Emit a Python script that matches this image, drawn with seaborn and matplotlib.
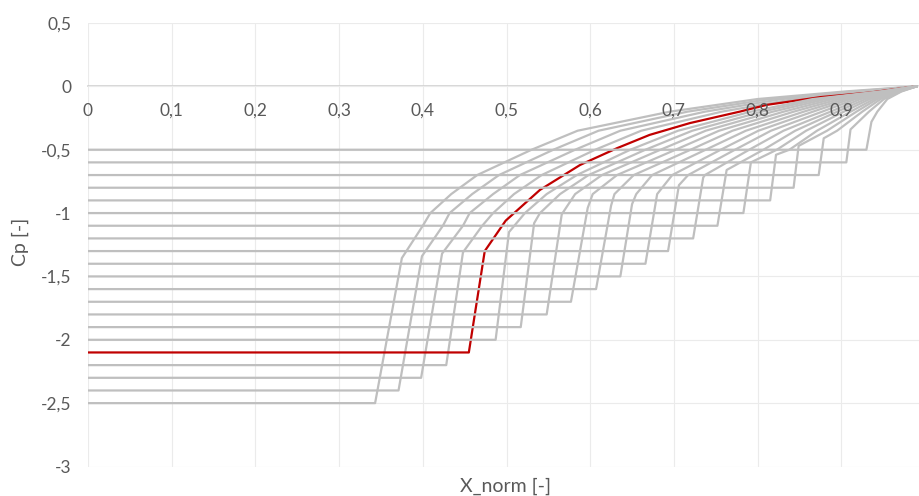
"""
Distribuciones de Cp normalizadas: familia de curvas (gris) y caso de
referencia (rojo).
"""

import matplotlib.pyplot as plt
import seaborn as sns

# Meseta de cada serie, de abajo arriba (mismo orden que en la hoja)
cp_plateau = [-2.5, -2.4, -2.3, -2.2, -2.1, -2.0, -1.9, -1.8, -1.7, -1.6, -1.5,
              -1.4, -1.3, -1.2, -1.1, -1.0, -0.9, -0.8, -0.7, -0.6, -0.5]
# Fin de la meseta (X_norm)
x_break = [0.343, 0.371, 0.398, 0.428, 0.455, 0.487, 0.517, 0.548, 0.577,
           0.607, 0.636, 0.666, 0.693, 0.723, 0.752, 0.783, 0.815, 0.843,
           0.873, 0.906, 0.930]

# Recuperacion de presion: desde la rodilla hasta el borde de salida
curve_x = [
    [0.375, 0.400, 0.409, 0.434, 0.465, 0.530, 0.585, 0.695, 0.800, 0.905, 0.99],
    [0.399, 0.424, 0.432, 0.459, 0.491, 0.556, 0.610, 0.716, 0.815, 0.915, 0.99],
    [0.423, 0.448, 0.456, 0.484, 0.516, 0.582, 0.636, 0.737, 0.829, 0.925, 0.99],
    [0.448, 0.471, 0.484, 0.509, 0.542, 0.606, 0.661, 0.757, 0.844, 0.935, 0.99],
    [0.474, 0.499, 0.540, 0.588, 0.632, 0.671, 0.719, 0.779, 0.811, 0.875,
     0.934, 0.99],
    [0.503, 0.522, 0.548, 0.584, 0.648, 0.705, 0.792, 0.866, 0.947, 0.99],
    [0.533, 0.540, 0.564, 0.598, 0.666, 0.722, 0.805, 0.874, 0.949, 0.99],
    [0.566, 0.582, 0.614, 0.684, 0.738, 0.818, 0.882, 0.951, 0.99],
    [0.597, 0.603, 0.632, 0.702, 0.754, 0.831, 0.890, 0.953, 0.99],
    [0.625, 0.629, 0.652, 0.720, 0.770, 0.843, 0.898, 0.955, 0.99],
    [0.650, 0.655, 0.674, 0.738, 0.786, 0.855, 0.905, 0.957, 0.99],
    [0.680, 0.698, 0.756, 0.801, 0.866, 0.911, 0.959, 0.99],
    [0.706, 0.717, 0.773, 0.816, 0.877, 0.917, 0.961, 0.99],
    [0.735, 0.737, 0.790, 0.831, 0.887, 0.923, 0.962, 0.99],
    [0.763, 0.807, 0.845, 0.895, 0.929, 0.964, 0.99],
    [0.792, 0.823, 0.858, 0.903, 0.934, 0.965, 0.99],
    [0.822, 0.838, 0.871, 0.911, 0.939, 0.967, 0.99],
    [0.849, 0.883, 0.918, 0.943, 0.968, 0.99],
    [0.879, 0.895, 0.925, 0.947, 0.969, 0.99],
    [0.911, 0.933, 0.951, 0.971, 0.99],
    [0.936, 0.943, 0.955, 0.972, 0.99],
]
curve_cp = [
    [-1.355, -1.1, -1.0, -0.85, -0.7, -0.5, -0.35, -0.2, -0.1, -0.04, 0.0],
    [-1.34, -1.1, -1.0, -0.85, -0.7, -0.5, -0.35, -0.2, -0.1, -0.04, 0.0],
    [-1.32, -1.1, -1.0, -0.85, -0.7, -0.5, -0.35, -0.2, -0.1, -0.04, 0.0],
    [-1.31, -1.1, -1.0, -0.85, -0.7, -0.5, -0.35, -0.2, -0.1, -0.04, 0.0],
    [-1.30, -1.06, -0.817, -0.620, -0.488, -0.383, -0.290, -0.199, -0.146,
     -0.085, -0.049, 0.0],
    [-1.15, -1.0, -0.85, -0.7, -0.5, -0.35, -0.2, -0.1, -0.04, 0.0],
    [-1.08, -1.0, -0.85, -0.7, -0.5, -0.35, -0.2, -0.1, -0.04, 0.0],
    [-1.01, -0.85, -0.7, -0.5, -0.35, -0.2, -0.1, -0.04, 0.0],
    [-0.96, -0.85, -0.7, -0.5, -0.35, -0.2, -0.1, -0.04, 0.0],
    [-0.94, -0.85, -0.7, -0.5, -0.35, -0.2, -0.1, -0.04, 0.0],
    [-0.93, -0.85, -0.7, -0.5, -0.35, -0.2, -0.1, -0.04, 0.0],
    [-0.85, -0.7, -0.5, -0.35, -0.2, -0.1, -0.04, 0.0],
    [-0.78, -0.7, -0.5, -0.35, -0.2, -0.1, -0.04, 0.0],
    [-0.72, -0.7, -0.5, -0.35, -0.2, -0.1, -0.04, 0.0],
    [-0.66, -0.5, -0.35, -0.2, -0.1, -0.04, 0.0],
    [-0.60, -0.5, -0.35, -0.2, -0.1, -0.04, 0.0],
    [-0.54, -0.5, -0.35, -0.2, -0.1, -0.04, 0.0],
    [-0.47, -0.35, -0.2, -0.1, -0.04, 0.0],
    [-0.41, -0.35, -0.2, -0.1, -0.04, 0.0],
    [-0.34, -0.2, -0.1, -0.04, 0.0],
    [-0.28, -0.2, -0.1, -0.04, 0.0],
]
cp_highlight = -2.1

x_ticks = [0.0, 0.1, 0.2, 0.3, 0.4, 0.5, 0.6, 0.7, 0.8, 0.9]
x_tick_labels = ['0', '0,1', '0,2', '0,3', '0,4', '0,5', '0,6', '0,7', '0,8',
                 '0,9']
x_grid = [0.0, 0.1, 0.2, 0.3, 0.4, 0.5, 0.6, 0.7, 0.8, 0.9, 1.0]
y_ticks = [0.5, 0.0, -0.5, -1.0, -1.5, -2.0, -2.5, -3.0]
y_tick_labels = ['0,5', '0', '-0,5', '-1', '-1,5', '-2', '-2,5', '-3']

sns.set_style('white')
plt.rcParams['font.family'] = ['Lato', 'DejaVu Sans']

GRIS = '#BFBFBF'
ROJO = '#C00000'
TEXTO = '#595959'
REJILLA = '#EBEBEB'

fig = plt.figure(figsize=(9.2, 4.96), dpi=100)
# el area de trazado llega hasta X=1, algo mas alla del borde derecho
ax = fig.add_axes([88 / 920, 1 - 466.5 / 496, 837 / 920, 443.5 / 496])

for cp0, xb, cx, ccp in zip(cp_plateau, x_break, curve_x, curve_cp):
    xs = [0.0, xb] + cx
    ys = [cp0, cp0] + ccp
    destacada = abs(cp0 - cp_highlight) < 1e-9
    sns.lineplot(x=xs, y=ys, sort=False, estimator=None, ax=ax,
                 color=ROJO if destacada else GRIS, linewidth=1.6, zorder=2)

ax.set_xlim(0, 1)
ax.set_ylim(-3, 0.5)
ax.set_xticks(x_ticks)
ax.set_xticklabels(x_tick_labels)
ax.set_yticks(y_ticks)
ax.set_yticklabels(y_tick_labels)

# rejilla vertical por debajo de las series
ax.vlines(x_grid, -3, 0.5, colors=REJILLA, linewidth=0.8, zorder=0)
ax.grid(True, which='major', axis='y', color=REJILLA, linewidth=0.8)
ax.grid(False, axis='x')
ax.set_axisbelow(True)
# las etiquetas del eje X (sobre Cp=0) quedan por encima de las curvas
ax.xaxis.set_zorder(5)

for lado in ['top', 'right', 'left']:
    ax.spines[lado].set_visible(False)
ax.spines['bottom'].set_position(('data', 0))
ax.spines['bottom'].set_color('#D0D0D0')
ax.spines['bottom'].set_linewidth(1.2)
ax.spines['bottom'].set_zorder(0.5)

ax.tick_params(axis='x', length=0, pad=12, labelsize=12.5, labelcolor=TEXTO)
ax.tick_params(axis='y', length=0, pad=12, labelsize=12.5, labelcolor=TEXTO)
ax.set_xlabel('')
ax.set_ylabel('')

fig.text(506 / 920, 1 - 486 / 496, 'X_norm [-]', ha='center', va='center',
         fontsize=14, color=TEXTO)
fig.text(20.5 / 920, 1 - 242 / 496, 'Cp [-]', ha='center', va='center',
         rotation=90, fontsize=14, color=TEXTO)

fig.savefig('out.png', dpi=100)
